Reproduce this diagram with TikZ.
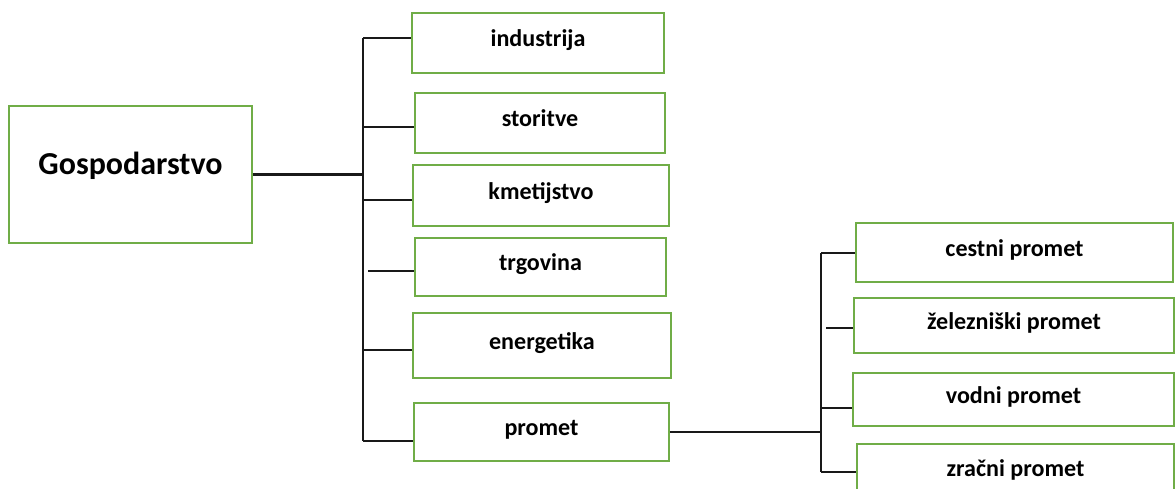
\documentclass[tikz,border=0pt]{standalone}
\usepackage{fontspec}
\setmainfont{Carlito}
\definecolor{boxgreen}{HTML}{70AD47}

\begin{document}
\begin{tikzpicture}[x=0.02cm,y=-0.02cm,line width=0.04cm,
rootbox/.style={draw=boxgreen, rectangle, inner sep=0pt, font=\fontsize{18.2pt}{22pt}\selectfont\bfseries, text height=6pt, text depth=6pt},
topicbox/.style={draw=boxgreen, rectangle, inner sep=0pt, font=\fontsize{13.7pt}{16pt}\selectfont\bfseries, text height=9.5pt, text depth=5pt},
link/.style={draw=black!90, line width=0.05cm}]
\useasboundingbox (0,0) rectangle (1175,489);
\clip (0,0) rectangle (1175,489);
% boxes
\node[rootbox, minimum width=4.86cm, minimum height=2.74cm] (gosp) at (130.5,174.5) {Gospodarstvo};
\node[topicbox, minimum width=5.04cm, minimum height=1.20cm] (ind) at (538,43) {industrija};
\node[topicbox, minimum width=5.00cm, minimum height=1.20cm] (sto) at (540,123) {storitve};
\node[topicbox, minimum width=5.12cm, minimum height=1.22cm] (kme) at (541,195.5) {kmetijstvo};
\node[topicbox, minimum width=5.02cm, minimum height=1.16cm] (trg) at (540.5,267) {trgovina};
\node[topicbox, minimum width=5.16cm, minimum height=1.30cm] (ene) at (542,345.5) {energetika};
\node[topicbox, minimum width=5.10cm, minimum height=1.16cm] (pro) at (541.5,432) {promet};
\node[topicbox, minimum width=6.34cm, minimum height=1.18cm] (ces) at (1014.5,252.5) {cestni promet};
\node[topicbox, minimum width=6.40cm, minimum height=1.10cm] (zel) at (1014,325.5) {železniški promet};
\node[topicbox, minimum width=6.42cm, minimum height=1.06cm] (vod) at (1013.5,399.5) {vodni promet};
\node[topicbox, minimum width=6.34cm, minimum height=1.16cm] (zra) at (1015.5,473) {zračni promet};
% trunk points
\coordinate (t1) at (363,38);
\coordinate (t2) at (363,127);
\coordinate (t3) at (363,200);
\coordinate (t4) at (368,271);
\coordinate (t5) at (363,350);
\coordinate (t6) at (363,441);
\coordinate (r1) at (821,253);
\coordinate (r2) at (826,328);
\coordinate (r3) at (821,408);
\coordinate (r4) at (821,472);
% connectors
\draw[link] (t1) -- (t6);
\draw[link] (gosp.east) -- (gosp.east -| t1);
\draw[link] (t1) -- (t1 -| ind.west);
\draw[link] (t2) -- (t2 -| sto.west);
\draw[link] (t3) -- (t3 -| kme.west);
\draw[link] (t4) -- (t4 -| trg.west);
\draw[link] (t5) -- (t5 -| ene.west);
\draw[link] (t6) -- (t6 -| pro.west);
\draw[link] (r1) -- (r4);
\draw[link] (pro.east) -- (pro.east -| r1);
\draw[link] (r1) -- (r1 -| ces.west);
\draw[link] (r2) -- (r2 -| zel.west);
\draw[link] (r3) -- (r3 -| vod.west);
\draw[link] (r4) -- (r4 -| zra.west);
\end{tikzpicture}
\end{document}
